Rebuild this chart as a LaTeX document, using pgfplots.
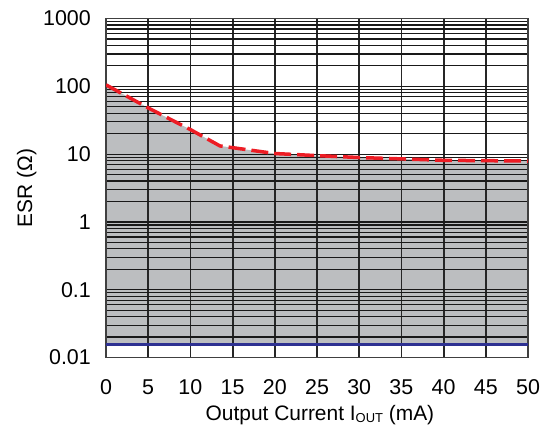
\documentclass[border=0pt]{standalone}
\usepackage{pgfplots}
\pgfplotsset{compat=1.18}
\usepackage{fontspec}
\setmainfont{Liberation Sans}
\definecolor{esrred}{HTML}{ED1C24}
\definecolor{esrblue}{HTML}{2E3192}
\definecolor{esrgray}{HTML}{BCBEC0}
\pgfplotsset{set layers}
\begin{document}
\begin{tikzpicture}
\begin{axis}[
  scale only axis,
  width=422bp, height=339bp,
  xmin=0, xmax=50, ymin=0.01, ymax=1000,
  ymode=log,
  log basis y=10,
  xtick={0,5,10,15,20,25,30,35,40,45,50},
  ytick={0.01,0.1,1,10,100,1000},
  yticklabels={0.01,0.1,1,10,100,1000},
  minor ytick={0.02,0.03,0.04,0.05,0.06,0.07,0.08,0.09,
               0.2,0.3,0.4,0.5,0.6,0.7,0.8,0.9,
               2,3,4,5,6,7,8,9,
               20,30,40,50,60,70,80,90,
               200,300,400,500,600,700,800,900},
  xmajorgrids, ymajorgrids, yminorgrids,
  x grid style={black!85, line width=1.8bp},
  y grid style={black!90, line width=1.2bp},
  minor grid style={black!75, line width=0.8bp},
  major tick length=0pt, minor tick length=0pt,
  axis line style={black!75, line width=1.4bp},
  tick label style={font=\fontsize{21.5}{24}\selectfont},
  /pgf/number format/assume math mode=true,
  yticklabel style={inner sep=0pt, xshift=-15bp},
  xticklabel style={inner sep=0pt, yshift=-22bp},
  xlabel={Output Current I\raisebox{-1.5bp}{\fontsize{13}{13}\selectfont OUT} (mA)},
  ylabel={ESR (Ω)},
  label style={font=\fontsize{21}{24}\selectfont},
  xlabel style={at={(axis description cs:0.507,-0.170)}, anchor=center},
  ylabel style={at={(axis description cs:-0.188,0.5)}, anchor=center, rotate=0},
]
\addplot[fill=esrgray, draw=none, on layer=axis background] coordinates {
 (0,0.015) (0,105) (5,48) (10,23) (13.5,13.2) (20,10.2) (25,9.5) (30,8.9) (35,8.5) (40,8.1) (45,8.0) (50,7.9) (50,0.015)
} -- cycle;
\addplot[esrred, line width=3.5bp, dash pattern=on 17bp off 6bp] coordinates {
 (0,105) (5,48) (10,23) (13.5,13.2) (20,10.2) (25,9.5) (30,8.9) (35,8.5) (40,8.1) (45,8.0) (50,7.9)
};
\addplot[esrblue, line width=3bp] coordinates {(0,0.0155) (50,0.0155)};
\coordinate (bl) at (rel axis cs:0,0);
\coordinate (tr) at (rel axis cs:1,1);
\node[anchor=base east, inner sep=0pt, font=\fontsize{21}{24}\selectfont] at ([xshift=-3bp,yshift=13.5bp]rel axis cs:1,1) {V\raisebox{-1.5bp}{\fontsize{13}{13}\selectfont IN} = 18V to 21V};
\end{axis}
\pgfresetboundingbox
\path[use as bounding box] ([xshift=-106bp,yshift=-72.5bp]bl) rectangle ([xshift=22bp,yshift=18.5bp]tr);
\end{tikzpicture}
\end{document}
